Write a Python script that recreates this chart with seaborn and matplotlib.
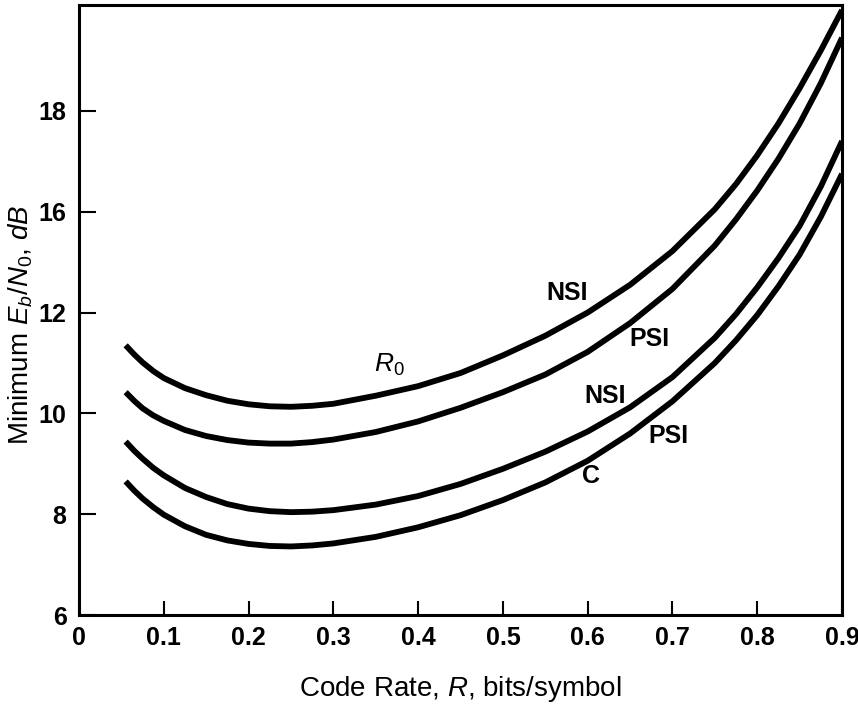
import numpy as np
import pandas as pd
import matplotlib
matplotlib.use("Agg")
import matplotlib.pyplot as plt
from matplotlib import font_manager
from matplotlib.ticker import FixedLocator, FixedFormatter
import seaborn as sns

# Code rate R (bits/symbol)
rate = [0.055, 0.065, 0.075, 0.0875, 0.1, 0.125, 0.15, 0.175, 0.2, 0.225, 0.25,
        0.275, 0.3, 0.35, 0.4, 0.45, 0.5, 0.55, 0.6, 0.65, 0.7, 0.75, 0.775,
        0.8, 0.825, 0.85, 0.875, 0.9]

# Minimum Eb/N0 (dB): cutoff-rate curves (R0) and capacity curves (C)
r0_nsi = [11.35, 11.17, 11.01, 10.84, 10.70, 10.50, 10.36, 10.25, 10.18, 10.14, 10.13,
          10.15, 10.19, 10.35, 10.54, 10.80, 11.15, 11.54, 12.00, 12.55, 13.22, 14.05,
          14.55, 15.12, 15.75, 16.45, 17.20, 18.00]
r0_psi = [10.42, 10.25, 10.10, 9.96, 9.85, 9.67, 9.55, 9.47, 9.42, 9.40, 9.40,
          9.43, 9.48, 9.63, 9.84, 10.11, 10.42, 10.77, 11.22, 11.79, 12.47, 13.33,
          13.85, 14.42, 15.05, 15.75, 16.55, 17.45]
c_nsi = [9.44, 9.26, 9.10, 8.92, 8.77, 8.52, 8.34, 8.20, 8.11, 8.06, 8.04,
         8.05, 8.08, 8.19, 8.36, 8.60, 8.90, 9.24, 9.64, 10.12, 10.72, 11.50,
         11.97, 12.50, 13.08, 13.72, 14.50, 15.40]
c_psi = [8.65, 8.47, 8.31, 8.14, 7.99, 7.76, 7.59, 7.48, 7.41, 7.37, 7.36,
         7.38, 7.42, 7.55, 7.74, 7.98, 8.28, 8.63, 9.06, 9.60, 10.24, 11.00,
         11.45, 11.95, 12.52, 13.15, 13.90, 14.75]

y_tick_pos = [6, 8, 10, 12, 14, 16]
y_tick_labels = ["6", "8", "10", "12", "16", "18"]
x_ticks = [0, 0.1, 0.2, 0.3, 0.4, 0.5, 0.6, 0.7, 0.8, 0.9]
x_tick_labels = ["0", "0.1", "0.2", "0.3", "0.4", "0.5", "0.6", "0.7", "0.8", "0.9"]

# Curve labels: (text, rate, Eb/N0)
curve_labels = [
    ("NSI", 0.576, 12.38),
    ("PSI", 0.673, 11.47),
    ("NSI", 0.620, 10.34),
    ("PSI", 0.695, 9.55),
    ("C", 0.604, 8.76),
]

sns.set_theme(style="ticks")

available = {f.name for f in font_manager.fontManager.ttflist}
narrow = "Liberation Sans Narrow" if "Liberation Sans Narrow" in available else "Liberation Sans"
plt.rcParams["font.family"] = [narrow, "DejaVu Sans"]
plt.rcParams["mathtext.fontset"] = "custom"
plt.rcParams["mathtext.rm"] = narrow
plt.rcParams["mathtext.it"] = f"{narrow}:italic"
plt.rcParams["mathtext.bf"] = f"{narrow}:bold"

df = pd.DataFrame({
    "rate": rate * 4,
    "ebno": r0_nsi + r0_psi + c_nsi + c_psi,
    "curve": (["R0 NSI"] * len(rate) + ["R0 PSI"] * len(rate)
              + ["C NSI"] * len(rate) + ["C PSI"] * len(rate)),
})

fig = plt.figure(figsize=(8.58, 7.04), dpi=100)
ax = fig.add_axes([0.0921, 0.1264, 0.8893, 0.8665])

sns.lineplot(data=df, x="rate", y="ebno", units="curve", estimator=None,
             color="black", linewidth=4.2, sort=False, ax=ax, legend=False)
for line in ax.get_lines():
    line.set_solid_joinstyle("round")
    line.set_solid_capstyle("butt")

ax.set_xlim(0, 0.9)
ax.set_ylim(6, 18.1)

ax.xaxis.set_major_locator(FixedLocator(x_ticks))
ax.xaxis.set_major_formatter(FixedFormatter(x_tick_labels))
ax.yaxis.set_major_locator(FixedLocator(y_tick_pos))
ax.yaxis.set_major_formatter(FixedFormatter(y_tick_labels))

ax.tick_params(axis="y", direction="in", length=12, width=1.5, pad=9,
               labelsize=18, colors="black")
ax.tick_params(axis="x", direction="in", length=10, width=1.5, pad=8,
               labelsize=18, colors="black")
for lab in ax.get_xticklabels() + ax.get_yticklabels():
    lab.set_fontweight("bold")

for side in ["left", "bottom", "right", "top"]:
    ax.spines[side].set_visible(True)
    ax.spines[side].set_linewidth(2.2)
    ax.spines[side].set_color("black")

ax.set_xlabel(r"Code Rate, $R$, bits/symbol", fontsize=20, color="black")
ax.set_ylabel(r"Minimum $E_b/N_0$, $dB$", fontsize=20, color="black")
ax.xaxis.set_label_coords(0.5, -0.097)
ax.yaxis.set_label_coords(-0.0577, 0.475)

for text, xr, yv in curve_labels:
    ax.text(xr, yv, text, fontsize=18, fontweight="bold", ha="center",
            va="center", color="black")
ax.text(0.366, 10.96, r"$R_0$", fontsize=19, ha="center", va="center",
        color="black")

ax.grid(False)
fig.savefig("out.png", dpi=100, facecolor="white")
